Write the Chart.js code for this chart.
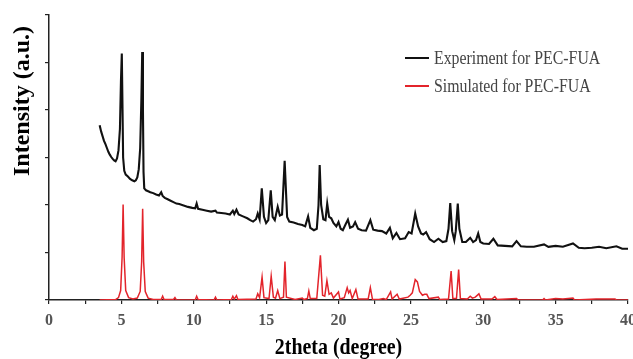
<!DOCTYPE html>
<html>
<head>
<meta charset="utf-8">
<script src="https://cdn.jsdelivr.net/npm/chart.js@4.4.1/dist/chart.umd.min.js"></script>
<style>
  html, body { margin: 0; padding: 0; background: #fff; }
  #wrap { position: relative; width: 633px; height: 359px; }
</style>
</head>
<body>
<div id="wrap"><canvas id="xrdChart" width="633" height="359"></canvas></div>
<script>
'use strict';

/* ── Data ──────────────────────────────────────── */
var expX = [3.5,3.6,3.7,3.8,3.9,4.0,4.1,4.2,4.3,4.4,4.5,4.6,4.7,4.8,4.9,4.97,5.03,5.08,5.12,5.2,5.3,5.45,5.6,5.75,5.9,6.0,6.1,6.2,6.3,6.38,6.44,6.49,6.53,6.58,6.7,6.85,7.0,7.2,7.4,7.6,7.75,7.85,8.0,8.2,8.4,8.6,8.8,9.0,9.3,9.6,9.9,10.1,10.2,10.3,10.6,10.9,11.2,11.5,11.6,11.9,12.2,12.5,12.7,12.8,12.95,13.1,13.4,13.7,13.9,14.1,14.3,14.42,14.55,14.7,14.85,15.0,15.15,15.32,15.45,15.6,15.8,15.95,16.1,16.28,16.45,16.6,16.9,17.2,17.5,17.7,17.9,18.05,18.3,18.5,18.62,18.7,18.8,18.95,19.1,19.22,19.35,19.5,19.65,19.85,20.0,20.15,20.3,20.5,20.65,20.8,21.0,21.15,21.35,21.6,21.9,22.2,22.4,22.7,23.0,23.3,23.55,23.75,24.0,24.25,24.6,24.85,25.05,25.3,25.5,25.7,25.85,26.05,26.3,26.6,26.9,27.2,27.45,27.6,27.72,27.85,28.0,28.1,28.24,28.35,28.55,28.8,29.1,29.3,29.5,29.65,29.8,30.0,30.4,30.7,31.0,31.5,32.0,32.3,32.6,33.0,33.5,34.2,34.5,35.0,35.5,36.2,36.6,37.0,37.5,38.0,38.5,39.2,39.6,40.0];
var expY = [3.68,3.55,3.45,3.35,3.28,3.2,3.12,3.06,3.01,2.97,2.94,2.92,2.98,3.15,3.6,4.6,5.19,4.0,3.0,2.72,2.64,2.6,2.55,2.52,2.5,2.52,2.58,2.75,3.2,4.2,5.22,4.0,2.7,2.35,2.31,2.29,2.27,2.25,2.22,2.2,2.27,2.19,2.15,2.12,2.09,2.06,2.03,2.02,1.99,1.96,1.94,1.93,2.03,1.92,1.9,1.88,1.86,1.88,1.84,1.83,1.82,1.8,1.88,1.81,1.9,1.8,1.76,1.72,1.68,1.65,1.7,1.82,1.7,2.35,1.75,1.62,1.68,2.31,1.75,1.68,1.96,1.78,1.8,2.93,1.75,1.65,1.63,1.6,1.58,1.55,1.76,1.52,1.47,1.5,2.0,2.84,2.0,1.7,1.68,2.03,1.75,1.72,1.62,1.55,1.64,1.5,1.47,1.6,1.69,1.52,1.55,1.64,1.5,1.47,1.46,1.68,1.48,1.46,1.45,1.4,1.52,1.3,1.41,1.28,1.3,1.43,1.4,1.82,1.55,1.4,1.38,1.43,1.28,1.22,1.29,1.22,1.24,1.5,2.04,1.45,1.26,1.45,2.03,1.5,1.22,1.22,1.31,1.22,1.26,1.4,1.22,1.19,1.18,1.29,1.15,1.14,1.13,1.24,1.13,1.12,1.12,1.17,1.12,1.14,1.12,1.19,1.1,1.09,1.1,1.12,1.09,1.13,1.08,1.08];

var simX = [3.5,4.6,4.8,4.95,5.05,5.12,5.19,5.3,5.5,5.8,6.1,6.3,6.4,6.47,6.54,6.65,6.85,7.2,7.75,7.85,7.95,8.6,8.7,8.8,10.1,10.2,10.3,11.4,11.5,11.6,12.6,12.7,12.8,12.95,13.05,14.3,14.42,14.55,14.72,14.85,15.2,15.35,15.5,15.65,15.8,15.95,16.2,16.3,16.4,17.0,17.5,17.6,17.85,17.95,18.05,18.5,18.75,18.9,19.05,19.2,19.35,19.5,19.65,20.0,20.1,20.4,20.6,20.7,20.8,20.95,21.2,21.35,22.05,22.2,22.35,22.8,23.1,23.3,23.6,23.7,24.05,24.2,24.8,24.95,25.1,25.3,25.45,25.6,25.8,25.95,26.1,26.25,26.9,27.0,27.6,27.78,27.9,28.15,28.3,28.42,28.9,29.1,29.25,29.45,29.7,29.85,30.6,30.8,30.95,32.3,32.4,34.1,34.2,34.3,35.0,35.5,36.2,36.3,37.8,39.1,39.2,40.0];
var simY = [0,0.01,0.05,0.2,0.9,2.01,0.9,0.2,0.05,0.02,0.04,0.18,0.8,1.92,0.8,0.18,0.04,0.01,0.01,0.08,0.01,0.01,0.05,0,0,0.08,0.01,0,0.06,0,0.01,0.08,0.02,0.09,0.01,0.02,0.13,0.05,0.48,0.05,0.03,0.5,0.06,0.04,0.2,0.03,0.06,0.81,0.06,0.01,0.04,0.01,0.03,0.19,0.03,0.03,0.94,0.1,0.08,0.41,0.12,0.15,0.04,0.17,0.02,0.05,0.26,0.15,0.2,0.03,0.22,0.02,0.02,0.26,0.01,0.01,0.03,0.01,0.17,0.02,0.12,0.02,0.06,0.1,0.15,0.43,0.38,0.18,0.1,0.12,0.12,0.03,0.06,0.01,0.02,0.61,0.03,0.03,0.64,0.03,0.02,0.08,0.04,0.06,0.13,0.02,0.02,0.07,0.01,0.03,0,0,0.03,0,0.03,0.02,0.04,0,0.02,0.02,0,0];

var seriesNames = ['Experiment for PEC-FUA', 'Simulated for PEC-FUA'];
var seriesColors = ['#111111', '#e3242b'];
var xTitle = '2theta (degree)';
var yTitle = 'Intensity (a.u.)';

function pairs(xs, ys) {
  return xs.map(function (x, i) { return { x: x, y: ys[i] }; });
}

/* ── Titles + legend drawn by hand (positions off-centre in the figure) ── */
var decor = {
  id: 'decor',
  afterDraw: function (chart) {
    var ctx = chart.ctx;
    var area = chart.chartArea;
    ctx.save();
    ctx.fillStyle = '#000';
    ctx.textAlign = 'center';
    ctx.textBaseline = 'middle';

    /* x title */
    ctx.save();
    ctx.translate((area.left + area.right) / 2, 348);
    ctx.scale(0.83, 1);
    ctx.font = 'bold 24px "Liberation Serif", serif';
    ctx.fillText(xTitle, 0, 0);
    ctx.restore();

    /* y title */
    ctx.save();
    ctx.translate(23, 101);
    ctx.rotate(-Math.PI / 2);
    ctx.font = 'bold 24px "Liberation Serif", serif';
    ctx.fillText(yTitle, 0, 0);
    ctx.restore();

    /* legend */
    var rows = [58, 86];
    rows.forEach(function (yy, i) {
      ctx.strokeStyle = seriesColors[i];
      ctx.lineWidth = 2;
      ctx.beginPath();
      ctx.moveTo(405, yy);
      ctx.lineTo(429, yy);
      ctx.stroke();
      ctx.save();
      ctx.translate(434, yy + 1);
      ctx.scale(0.88, 1);
      ctx.textAlign = 'left';
      ctx.fillStyle = '#444';
      ctx.font = '18px "Liberation Serif", serif';
      ctx.fillText(seriesNames[i], 0, 0);
      ctx.restore();
    });
    ctx.restore();
  }
};

new Chart(document.getElementById('xrdChart'), {
  type: 'line',
  data: {
    datasets: [
      { label: seriesNames[0], data: pairs(expX, expY), borderColor: seriesColors[0],
        borderWidth: 2.1, pointRadius: 0, tension: 0, fill: false },
      { label: seriesNames[1], data: pairs(simX, simY), borderColor: seriesColors[1],
        borderWidth: 1.5, pointRadius: 0, tension: 0, fill: false }
    ]
  },
  options: {
    responsive: false, animation: false,
    layout: { padding: { left: 0, right: 5, top: 15, bottom: 0 } },
    plugins: { legend: { display: false }, tooltip: { enabled: false } },
    scales: {
      x: {
        type: 'linear', min: 0, max: 40,
        border: { color: '#222', width: 1.5 },
        grid: { drawOnChartArea: false, drawTicks: true, tickLength: 4, color: '#222', lineWidth: 1.2 },
        ticks: {
          stepSize: 2.5, autoSkip: false, maxRotation: 0, padding: 7,
          color: '#555', font: { family: '"Liberation Serif", serif', weight: 'bold', size: 16 },
          callback: function (v) { return v % 5 === 0 ? String(v) : ''; }
        },
        afterFit: function (s) { s.height = 59; s.paddingLeft = 0; s.paddingRight = 0; }
      },
      y: {
        min: 0, max: 6,
        border: { color: '#222', width: 1.5 },
        grid: { drawOnChartArea: false, drawTicks: true, tickLength: 4, color: '#222', lineWidth: 1.2 },
        ticks: { stepSize: 1, display: false },
        afterFit: function (s) { s.width = 49; s.paddingTop = 0; s.paddingBottom = 0; }
      }
    }
  },
  plugins: [decor]
});
</script>
</body>
</html>
